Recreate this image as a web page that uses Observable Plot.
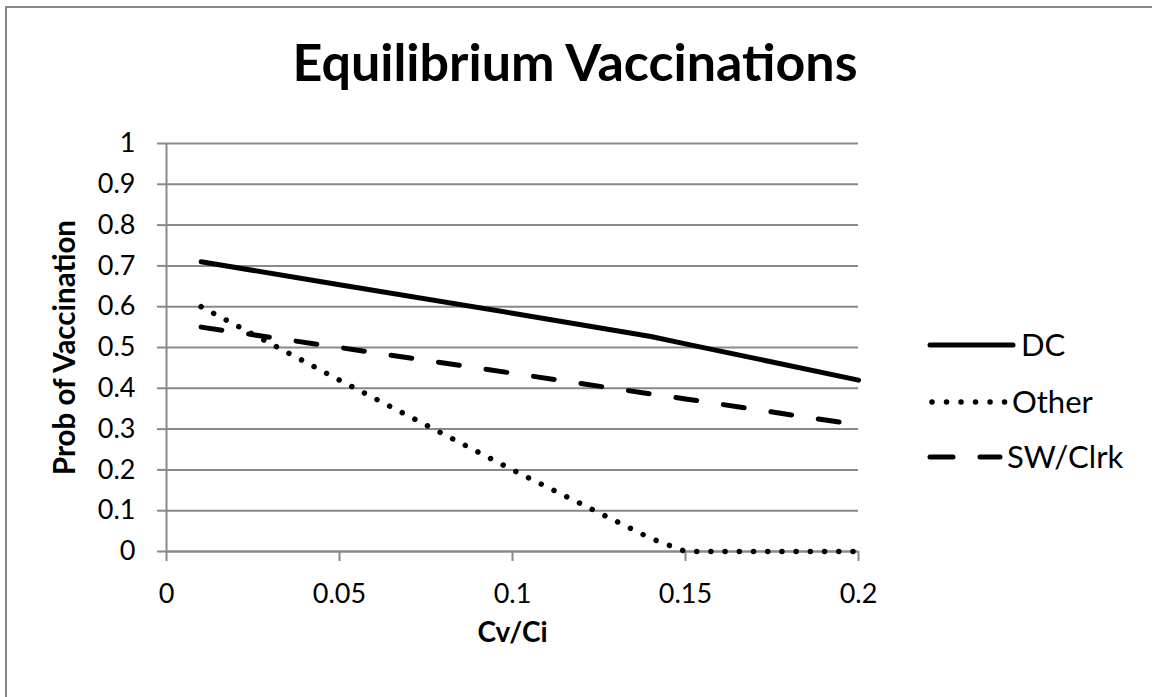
<!DOCTYPE html>
<html>
<head>
<meta charset="utf-8">
<script src="https://cdn.jsdelivr.net/npm/d3@7"></script>
<script src="https://cdn.jsdelivr.net/npm/@observablehq/plot@0.6"></script>
<style>
  html, body { margin: 0; padding: 0; background: #fff; }
  body { width: 1152px; height: 697px; overflow: hidden; position: relative; font-family: Lato, sans-serif; }
  #frame { position: absolute; left: 5px; top: 6px; width: 1200px; height: 760px; border-left: 2px solid #878787; border-top: 2px solid #878787; }
  #title { position: absolute; left: 0; top: 35px; width: 1150px; text-align: center; font-size: 52px; font-weight: bold; line-height: 1; color: #000; }
  #chart { position: absolute; left: 0; top: 100px; }
  #legend { position: absolute; left: 0; top: 0; }
</style>
</head>
<body>
<div id="frame"></div>
<div id="title">Equilibrium Vaccinations</div>
<div id="chart"></div>
<svg id="legend" width="1152" height="697"></svg>
<script>
// ---- data ----
const xValues = [0.01, 0.05, 0.1, 0.14, 0.15, 0.2];
const dcValues = [0.71, 0.654, 0.584, 0.527, 0.509, 0.42];
const otherValues = [0.60, 0.42, 0.20, 0.032, 0, 0];
const swValues = [0.55, 0.50, 0.437, 0.386, 0.374, 0.31];
const seriesNames = ["DC", "Other", "SW/Clrk"];
const xTicks = [0, 0.05, 0.1, 0.15, 0.2];
const xTickLabels = ["0", "0.05", "0.1", "0.15", "0.2"];
const yTicks = [0, 0.1, 0.2, 0.3, 0.4, 0.5, 0.6, 0.7, 0.8, 0.9, 1];
const yTickLabels = ["0", "0.1", "0.2", "0.3", "0.4", "0.5", "0.6", "0.7", "0.8", "0.9", "1"];
const xTitle = "Cv/Ci";
const yTitle = "Prob of Vaccination";

const seriesValues = [dcValues, otherValues, swValues];
const rows = [];
seriesNames.forEach((s, k) => xValues.forEach((x, i) => rows.push({series: s, x, y: seriesValues[k][i]})));

const dashes = {"DC": null, "Other": "0.01 14.2", "SW/Clrk": "21 27"};
const gridColor = "#898989";

const lineMarks = seriesNames.map(s => Plot.line(rows.filter(r => r.series === s), {
  x: "x", y: "y", stroke: "#000", strokeWidth: s === "Other" ? 5.5 : 5,
  strokeLinecap: "round", strokeLinejoin: "round",
  ...(dashes[s] ? {strokeDasharray: dashes[s]} : {})
}));

const chart = Plot.plot({
  width: 1152,
  height: 597,
  marginTop: 43,
  marginBottom: 146,
  marginLeft: 166,
  marginRight: 294,
  style: {fontFamily: "Lato, sans-serif", fontSize: "27px", color: "#000", background: "transparent", overflow: "visible"},
  x: {domain: [0, 0.2]},
  y: {domain: [0, 1]},
  marks: [
    Plot.gridY(yTicks, {stroke: gridColor, strokeOpacity: 1, strokeWidth: 2}),
    Plot.ruleX([0], {stroke: gridColor, strokeWidth: 2}),
    Plot.ruleY([0], {stroke: gridColor, strokeWidth: 2}),
    Plot.axisY(yTicks, {tickSize: 9, tickPadding: 22, stroke: gridColor, strokeWidth: 2, fill: "#000",
      tickFormat: d => yTickLabels[yTicks.indexOf(d)], label: null}),
    Plot.axisX(xTicks, {tickSize: 10, tickPadding: 22, stroke: gridColor, strokeWidth: 2, fill: "#000",
      tickFormat: d => xTickLabels[xTicks.indexOf(d)], label: null}),
    ...lineMarks,
    Plot.text([yTitle], {text: d => d, frameAnchor: "left", textAnchor: "middle", dx: -101, rotate: -90, fontWeight: "bold", fontSize: 29.5, fill: "#000"}),
    Plot.text([xTitle], {text: d => d, frameAnchor: "bottom", dy: 90, fontWeight: "bold", fontSize: 28, fill: "#000"})
  ]
});
document.getElementById("chart").appendChild(chart);

// ---- legend ----
const lg = d3.select("#legend");
const legendRows = [
  {name: "DC", y: 345, tx: 1021},
  {name: "Other", y: 402, tx: 1012},
  {name: "SW/Clrk", y: 457, tx: 1007}
];
legendRows.forEach(r => {
  if (r.name === "DC") {
    lg.append("line").attr("x1", 930).attr("x2", 1013).attr("y1", r.y).attr("y2", r.y)
      .attr("stroke", "#000").attr("stroke-width", 5).attr("stroke-linecap", "round");
  } else if (r.name === "Other") {
    lg.append("line").attr("x1", 932).attr("x2", 1006).attr("y1", r.y).attr("y2", r.y)
      .attr("stroke", "#000").attr("stroke-width", 5.5).attr("stroke-linecap", "round")
      .attr("stroke-dasharray", "0.01 14.5");
  } else {
    lg.append("line").attr("x1", 930).attr("x2", 1000).attr("y1", r.y).attr("y2", r.y)
      .attr("stroke", "#000").attr("stroke-width", 5).attr("stroke-linecap", "round")
      .attr("stroke-dasharray", "23 27");
  }
  lg.append("text").attr("x", r.tx).attr("y", r.y).attr("dy", "0.35em")
    .attr("font-family", "Lato, sans-serif").attr("font-size", 31).attr("fill", "#000").text(r.name);
});
</script>
</body>
</html>
